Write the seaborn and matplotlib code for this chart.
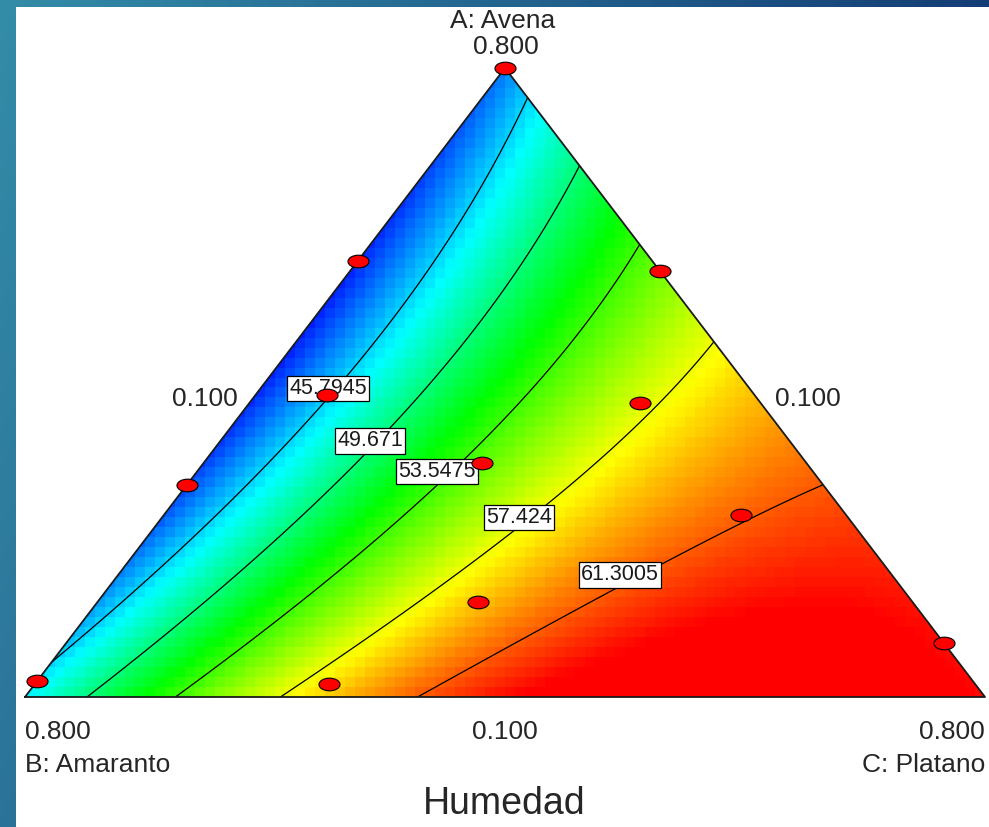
import numpy as np
import pandas as pd
import seaborn as sns
import matplotlib
matplotlib.use("Agg")
import matplotlib.pyplot as plt
from matplotlib.colors import LinearSegmentedColormap
from matplotlib.patches import Polygon, Rectangle
from matplotlib.path import Path

# design runs, real fractions (Avena, Amaranto, Platano), low bound 0.1 each
avena = [0.800, 0.585, 0.574, 0.436, 0.427, 0.336, 0.360, 0.302, 0.206, 0.118, 0.115, 0.160]
amaranto = [0.100, 0.315, 0.100, 0.412, 0.188, 0.564, 0.337, 0.178, 0.417, 0.782, 0.572, 0.100]
platano = [0.100, 0.100, 0.326, 0.152, 0.385, 0.100, 0.303, 0.521, 0.377, 0.100, 0.314, 0.740]

# quadratic mixture model for Humedad (pseudo components)
coef_a, coef_b, coef_c = 43.95, 46.62, 63.05
coef_ab, coef_ac, coef_bc = -13.0, 21.0, 32.94

levels = [45.7945, 49.671, 53.5475, 57.424, 61.3005]
# where each contour label sits (pseudo A, pseudo C)
label_a = [0.491, 0.407, 0.358, 0.285, 0.194]
label_c = [0.070, 0.156, 0.250, 0.372, 0.523]

low, span = 0.1, 0.7


def pseudo(v):
    return (np.asarray(v) - low) / span


def to_xy(a, c):
    return 0.5 * a + c, a


def humedad(x, y):
    a = y
    c = x - 0.5 * y
    b = 1 - a - c
    return (coef_a * a + coef_b * b + coef_c * c
            + coef_ab * a * b + coef_ac * a * c + coef_bc * b * c)


W, H = 989, 827
sns.set_style("white")
plt.rcParams["font.family"] = ["Liberation Sans", "DejaVu Sans"]

fig = plt.figure(figsize=(W / 100, H / 100), dpi=100)

# slide background strips
bg = fig.add_axes([0, 0, 1, 1])
bg.axis("off")
gx, gy = np.meshgrid(np.linspace(0, 1, 200), np.linspace(0, 1, 200))
c0 = np.array([0.20, 0.55, 0.66])
c1 = np.array([0.08, 0.24, 0.46])
c2 = np.array([0.17, 0.45, 0.60])
img = c0 + (c1 - c0) * gx[..., None] + (c2 - c0) * gy[..., None]
bg.imshow(np.clip(img, 0, 1), extent=[0, 1, 0, 1], aspect="auto", origin="upper")
bg.add_patch(Rectangle((16 / W, 0), 1, 1 - 7 / H, facecolor="white",
                       edgecolor="none", transform=bg.transAxes))
bg.set_xlim(0, 1)
bg.set_ylim(0, 1)

ax = fig.add_axes([25 / W, (H - 697) / H, 960 / W, 629 / H])
ax.set_xlim(0, 1)
ax.set_ylim(0, 1)
ax.axis("off")
ax.patch.set_visible(False)

cmap = LinearSegmentedColormap.from_list(
    "dx", ["#0000ff", "#00ffff", "#00ff00", "#ffff00", "#ff0000"])

tri = Polygon([(0, 0), (1, 0), (0.5, 1)], closed=True, facecolor="none",
              edgecolor="none", transform=ax.transData)
ax.add_patch(tri)

# coarse cells like the original renderer
nx, ny = 96, 63
xe = np.linspace(0, 1, nx + 1)
ye = np.linspace(0, 1, ny + 1)
XC, YC = np.meshgrid((xe[:-1] + xe[1:]) / 2, (ye[:-1] + ye[1:]) / 2)
mesh = ax.pcolormesh(xe, ye, humedad(XC, YC), cmap=cmap, vmin=41.2, vmax=63.3,
                     shading="flat")
mesh.set_clip_path(tri)

xf, yf = np.meshgrid(np.linspace(0, 1, 401), np.linspace(0, 1, 401))
cs = ax.contour(xf, yf, humedad(xf, yf), levels=levels, colors="black",
                linewidths=0.9)
cs.set_clip_path(tri)

manual = [to_xy(a, c) for a, c in zip(label_a, label_c)]
texts = ax.clabel(cs, levels=levels, manual=manual, inline=False, fmt="%g",
                  fontsize=15.5, colors="#1a1a1a")
for t, pos in zip(texts, manual):
    t.set_rotation(0)
    t.set_position(pos)
    t.set_bbox(dict(boxstyle="square,pad=0.1", facecolor="white",
                    edgecolor="black", linewidth=0.9))

ax.plot([0, 1, 0.5, 0], [0, 0, 1, 0], color="#1a1a1a", lw=1.3, clip_on=False)

pts = pd.DataFrame({"A": pseudo(avena), "C": pseudo(platano)})
pts["x"], pts["y"] = to_xy(pts["A"], pts["C"])
circ = Path.unit_circle()
ellipse = Path(circ.vertices * np.array([1.0, 0.6]), circ.codes)
sns.scatterplot(data=pts, x="x", y="y", ax=ax, marker=ellipse, s=230,
                color="#ff0000", edgecolor="black", linewidth=0.8,
                zorder=5, clip_on=False, legend=False)
ax.set_xlim(0, 1)
ax.set_ylim(0, 1)
ax.axis("off")


def at(px, py):
    return (px - 25) / 960, (697 - py) / 629


fs = 19
ax.text(*at(503, 21), "A: Avena", ha="center", va="center", fontsize=fs)
ax.text(*at(506, 47), "0.800", ha="center", va="center", fontsize=fs)
ax.text(*at(205, 399), "0.100", ha="center", va="center", fontsize=fs)
ax.text(*at(808, 399), "0.100", ha="center", va="center", fontsize=fs)
ax.text(*at(505, 732), "0.100", ha="center", va="center", fontsize=fs)
ax.text(*at(25, 732), "0.800", ha="left", va="center", fontsize=fs)
ax.text(*at(25, 765), "B: Amaranto", ha="left", va="center", fontsize=fs)
ax.text(*at(985, 732), "0.800", ha="right", va="center", fontsize=fs)
ax.text(*at(985, 765), "C: Platano", ha="right", va="center", fontsize=fs)
ax.text(*at(504, 804), "Humedad", ha="center", va="center", fontsize=27)

fig.savefig("out.png", dpi=100)
